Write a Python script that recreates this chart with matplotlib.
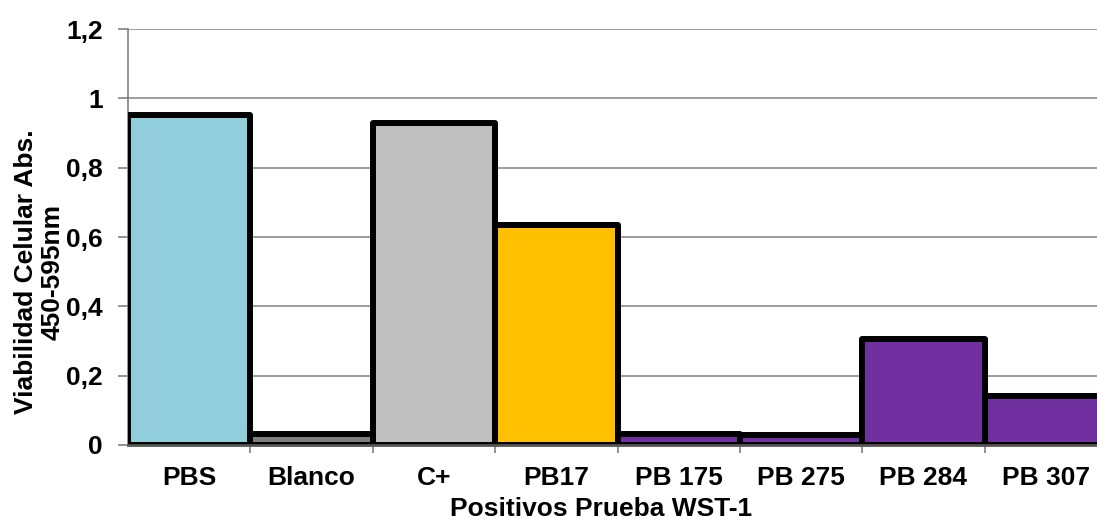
import numpy as np
import matplotlib
matplotlib.use("Agg")
import matplotlib.pyplot as plt

# WST-1 viability per sample
muestras = ["PBS", "Blanco", "C+", "PB17", "PB 175", "PB 275", "PB 284", "PB 307"]
absorbancia = [0.952, 0.033, 0.930, 0.636, 0.032, 0.029, 0.307, 0.141]
colores = ["#92CDDC", "#7F7F7F", "#BFBFBF", "#FFC000",
           "#7030A0", "#7030A0", "#7030A0", "#7030A0"]
yticks = [0, 0.2, 0.4, 0.6, 0.8, 1.0, 1.2]
ytick_labels = ["0", "0,2", "0,4", "0,6", "0,8", "1", "1,2"]

plt.rcParams["font.family"] = ["Liberation Sans", "DejaVu Sans"]
plt.rcParams["font.weight"] = "bold"
FS = 19

W, H = 1097, 519
fig = plt.figure(figsize=(W / 100, H / 100), dpi=100)
# right edge of the plot runs a little past the canvas
ax = fig.add_axes([128 / W, 1 - 445 / H, (1107 - 128) / W, (445 - 29) / H])

x = np.arange(len(muestras))
ax.bar(x, absorbancia, width=1.0, color=colores, edgecolor="black",
       linewidth=4.3, joinstyle="round", zorder=3)

ax.set_xlim(-0.5, len(muestras) - 0.5)
ax.set_ylim(0, 1.2)
ax.set_yticks(yticks)
ax.set_yticklabels(ytick_labels, fontsize=FS, fontweight="bold")
ax.set_xticks(x)
ax.set_xticklabels(muestras, fontsize=FS, fontweight="bold")
ax.set_xticks(x[:-1] + 0.5, minor=True)
ax.tick_params(axis="x", which="major", length=0, pad=15)
ax.tick_params(axis="x", which="minor", length=6, width=1.2, color="#808080")
ax.tick_params(axis="y", length=7, width=1.2, color="#808080", pad=11)

ax.yaxis.grid(True, color="#8C8C8C", linewidth=1.2, zorder=0)
ax.set_axisbelow(True)
for s in ["top", "right"]:
    ax.spines[s].set_visible(False)
ax.spines["left"].set_color("#808080")
ax.spines["left"].set_linewidth(1.2)
ax.spines["bottom"].set_color("#555555")
ax.spines["bottom"].set_linewidth(2.0)
ax.spines["bottom"].set_zorder(4)

ax.set_xlabel("Positivos Prueba WST-1", fontsize=FS, fontweight="bold")
ax.xaxis.set_label_coords(0.483, -0.125)
ax.xaxis.label.set_va("top")
fig.text(39 / W, 1 - 272 / H, "Viabilidad Celular Abs.\n450-595nm", rotation=90,
         ha="center", va="center", multialignment="center",
         fontsize=FS, fontweight="bold", linespacing=1.15)

fig.savefig("out.png", dpi=100)
